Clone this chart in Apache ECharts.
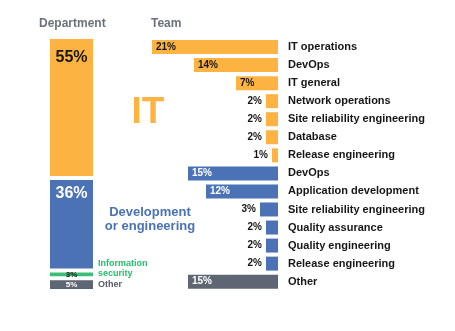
<!DOCTYPE html>
<html>
<head>
<meta charset="utf-8">
<script src="https://cdn.jsdelivr.net/npm/echarts@6/dist/echarts.min.js"></script>
<style>
html,body{margin:0;padding:0;background:#fff;}
#c{width:455px;height:331px;}
</style>
</head>
<body>
<div id="c"></div>
<script>
// ---- data ----
const departments = ['IT', 'Development or engineering', 'Information security', 'Other'];
const deptShare = [55, 36, 3, 5];
const teams = ['IT operations', 'DevOps', 'IT general', 'Network operations', 'Site reliability engineering', 'Database', 'Release engineering',
  'DevOps', 'Application development', 'Site reliability engineering', 'Quality assurance', 'Quality engineering', 'Release engineering', 'Other'];
const teamShare = [21, 14, 7, 2, 2, 2, 1, 15, 12, 3, 2, 2, 2, 15];
const teamDept = [0, 0, 0, 0, 0, 0, 0, 1, 1, 1, 1, 1, 1, 3];

// ---- styles ----
const FONT = '"Liberation Sans", Arial, sans-serif';
const deptColor = ['#FDB342', '#4A72B5', '#3DBE78', '#5E6673'];
const DARK = '#161616';

const chart = echarts.init(document.getElementById('c'), null, {renderer: 'canvas'});

const deptLabel = [
  {show: true, position: 'insideTop', distance: 13, color: DARK, fontSize: 16, fontWeight: 'bold', fontFamily: FONT},
  {show: true, position: 'insideTop', distance: 7, color: '#fff', fontSize: 16, fontWeight: 'bold', fontFamily: FONT},
  {show: true, position: 'inside', color: DARK, fontSize: 8, fontWeight: 'bold', fontFamily: FONT},
  {show: true, position: 'inside', color: '#fff', fontSize: 8, fontWeight: 'bold', fontFamily: FONT}
];

const deptSeries = departments.map((d, k) => ({
  name: d,
  type: 'bar',
  xAxisIndex: 0, yAxisIndex: 0,
  stack: 'dept',
  barWidth: 47,
  data: [deptShare[k]],
  itemStyle: {color: deptColor[k], borderColor: '#fff', borderWidth: 2},
  label: Object.assign({formatter: '{c}%'}, deptLabel[k]),
  emphasis: {disabled: true},
  animation: false
}));

const teamData = teamShare.map((v, i) => {
  const dk = teamDept[i];
  const big = v >= 7;
  return {
    value: v,
    itemStyle: {color: deptColor[dk]},
    label: {
      show: true,
      position: big ? 'insideLeft' : 'left',
      distance: 4,
      color: big && dk !== 0 ? '#fff' : DARK
    }
  };
});

const option = {
  backgroundColor: '#fff',
  animation: false,
  grid: [
    {left: 48, top: 37, width: 47, height: 254},
    {left: 152, top: 38, width: 126, height: 252.7}
  ],
  xAxis: [
    {gridIndex: 0, type: 'category', data: ['Department'], show: false},
    {gridIndex: 1, type: 'value', min: 0, max: Math.max(...teamShare), inverse: true, show: false}
  ],
  yAxis: [
    {gridIndex: 0, type: 'value', min: 0, max: deptShare.reduce((a, b) => a + b, 0), inverse: true, show: false},
    {gridIndex: 1, type: 'category', inverse: true, position: 'right',
      data: teams.map((t, i) => String(i)),
      axisLine: {show: false}, axisTick: {show: false}, splitLine: {show: false},
      axisLabel: {margin: 10, align: 'left', color: DARK, fontSize: 11, fontWeight: 'bold', fontFamily: FONT,
        formatter: (v, i) => teams[i]}
    }
  ],
  series: deptSeries.concat([{
    type: 'bar',
    xAxisIndex: 1, yAxisIndex: 1,
    barWidth: 14,
    data: teamData,
    label: {show: true, formatter: '{c}%', fontSize: 10, fontWeight: 'bold', fontFamily: FONT},
    emphasis: {disabled: true}
  }]),
  graphic: [
    {type: 'text', left: 39, top: 18, style: {text: 'Department', font: 'bold 12px ' + FONT, fill: '#6B717B'}},
    {type: 'text', left: 151, top: 18, style: {text: 'Team', font: 'bold 12px ' + FONT, fill: '#6B717B'}},
    {type: 'text', x: 148, y: 113, style: {text: departments[0], font: 'bold 37px ' + FONT, fill: deptColor[0], align: 'center', verticalAlign: 'middle'}},
    {type: 'text', x: 150, y: 219, style: {text: 'Development\nor engineering', font: 'bold 13px ' + FONT, lineHeight: 14, fill: deptColor[1], align: 'center', verticalAlign: 'middle'}},
    {type: 'text', x: 98, y: 268.5, style: {text: 'Information\nsecurity', font: 'bold 9px ' + FONT, lineHeight: 10, fill: '#23BD6A', align: 'left', verticalAlign: 'middle'}},
    {type: 'text', x: 98, y: 285, style: {text: departments[3], font: 'bold 9px ' + FONT, fill: '#555C67', align: 'left', verticalAlign: 'middle'}}
  ]
};
chart.setOption(option);
</script>
</body>
</html>
